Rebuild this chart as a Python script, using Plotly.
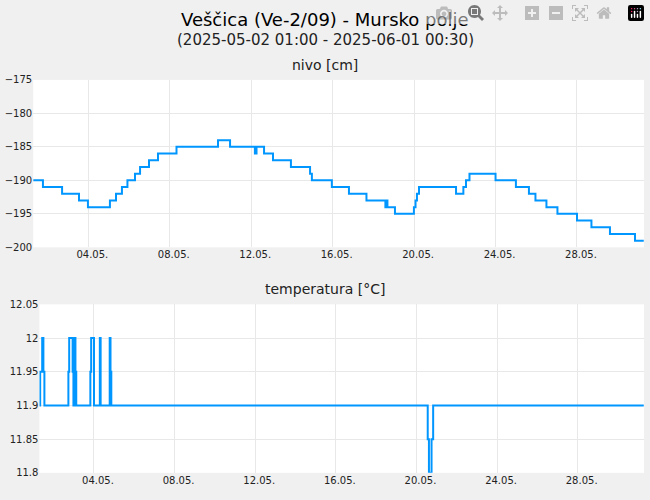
import pandas as pd
import plotly.graph_objects as go

# day-of-May (fractional) at which the value changes, and the new value
nivo_day = [1.29, 1.77, 2.71, 3.54, 3.98, 5.06, 5.36, 5.65, 5.92, 6.29, 6.54, 6.98, 7.42,
            8.33, 10.37, 10.96, 12.18, 12.26, 12.63, 13.07, 13.95, 14.89, 14.98, 15.96,
            16.8, 17.66, 18.59, 18.64, 18.69, 19.06, 19.99, 20.07, 20.14, 20.24, 22.06,
            22.42, 22.55, 22.72, 24.0, 25.0, 25.64, 25.96, 26.5, 27.04, 28.0, 28.71,
            29.62, 30.85, 31.28]
nivo_val = [-190, -191, -192, -193, -194, -193, -192, -191, -190, -189, -188, -187, -186,
            -185, -184, -185, -186, -185, -186, -187, -188, -189, -190, -191,
            -192, -193, -194, -193, -194, -195, -194, -193, -192, -191, -192,
            -191, -190, -189, -190, -191, -192, -193, -194, -195, -196, -197,
            -198, -199, -199]

temp_day = [1.29, 1.33, 1.43, 1.49, 1.54, 2.73, 2.77, 2.94, 2.98, 3.03, 3.08, 3.12,
            3.82, 3.86, 4.0, 4.29, 4.33, 4.78, 4.82, 4.86, 20.56, 20.62, 20.75, 20.83, 31.28]
temp_val = [11.9, 11.95, 12.0, 11.95, 11.9, 11.95, 12.0, 11.95, 11.9, 12.0, 11.95, 11.9,
            11.95, 12.0, 11.9, 12.0, 11.9, 12.0, 11.95, 11.9, 11.85, 11.8, 11.85, 11.9, 11.9]


def to_time(days):
    return pd.Timestamp("2025-05-01") + pd.to_timedelta([d - 1 for d in days], unit="D")


LINE = "#0096ff"
GRID = "#e8e8e8"
x_range = ["2025-05-01 07:00", "2025-05-31 07:00"]

fig = go.Figure()
fig.add_trace(go.Scatter(x=to_time(nivo_day), y=nivo_val, mode="lines", line_shape="hv",
                         line=dict(color=LINE, width=2), xaxis="x", yaxis="y"))
fig.add_trace(go.Scatter(x=to_time(temp_day), y=temp_val, mode="lines", line_shape="hv",
                         line=dict(color=LINE, width=2), xaxis="x2", yaxis="y2"))

xax = dict(type="date", range=x_range, tick0="2025-05-04", dtick=4 * 86400000,
           tickformat="%d.%m.", showgrid=True, gridcolor=GRID, ticks="", ticklabelshift=4,
           tickfont=dict(size=10, color="#222"), showline=False, zeroline=False)
yax = dict(showgrid=True, gridcolor=GRID, ticks="", tickfont=dict(size=10, color="#222"),
           zeroline=False, showline=False)


def label(text, y_px, size, color="#222"):
    return dict(text=text, x=0.5, y=1 - y_px / 500, xref="paper", yref="paper",
                yanchor="middle", showarrow=False, font=dict(size=size, color=color))


fig.update_layout(
    width=650, height=500, showlegend=False,
    paper_bgcolor="#f0f0f0", plot_bgcolor="white",
    font=dict(family="DejaVu Sans"),
    margin=dict(l=0, r=0, t=0, b=0),
    xaxis=dict(xax, domain=[33.2 / 650, 644 / 650], anchor="y"),
    yaxis=dict(yax, domain=[(500 - 247.3) / 500, (500 - 75.7) / 500], range=[-200, -175],
               dtick=5, anchor="x"),
    xaxis2=dict(xax, domain=[39.4 / 650, 644 / 650], anchor="y2"),
    yaxis2=dict(yax, domain=[(500 - 478.3) / 500, (500 - 305.7) / 500], range=[11.8, 12.05],
                dtick=0.05, tickformat="~g", anchor="x2"),
    annotations=[
        label("Veščica (Ve-2/09) - Mursko polje", 14, 18, "black"),
        label("(2025-05-02 01:00 - 2025-06-01 00:30)", 35, 15),
        label("nivo [cm]", 60, 14),
        label("temperatura [°C]", 290, 14),
    ],
)

fig.write_html("out.html", post_script="document.body.style.margin='0';")
